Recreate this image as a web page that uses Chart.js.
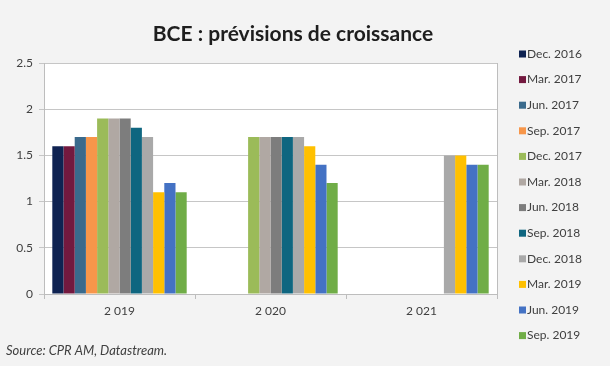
<!DOCTYPE html>
<html>
<head>
<meta charset="utf-8">
<script src="https://cdn.jsdelivr.net/npm/chart.js@4/dist/chart.umd.min.js"></script>
<style>
html,body{margin:0;padding:0;background:#f3f3f3;}
#wrap{position:relative;width:610px;height:366px;}
</style>
</head>
<body>
<div id="wrap"><canvas id="c" width="610" height="366"></canvas></div>
<script>
const title = "BCE : prévisions de croissance";
const source = "Source: CPR AM, Datastream.";
const categories = ["2 019", "2 020", "2 021"];
const seriesNames = ["Dec. 2016","Mar. 2017","Jun. 2017","Sep. 2017","Dec. 2017","Mar. 2018","Jun. 2018","Sep. 2018","Dec. 2018","Mar. 2019","Jun. 2019","Sep. 2019"];
const dec2016 = [1.6, null, null];
const mar2017 = [1.6, null, null];
const jun2017 = [1.7, null, null];
const sep2017 = [1.7, null, null];
const dec2017 = [1.9, 1.7, null];
const mar2018 = [1.9, 1.7, null];
const jun2018 = [1.9, 1.7, null];
const sep2018 = [1.8, 1.7, null];
const dec2018 = [1.7, 1.7, 1.5];
const mar2019 = [1.1, 1.6, 1.5];
const jun2019 = [1.2, 1.4, 1.4];
const sep2019 = [1.1, 1.2, 1.4];
const yTicks = [0, 0.5, 1, 1.5, 2, 2.5];
const yTickLabels = ["0", "0.5", "1", "1.5", "2", "2.5"];

const seriesValues = [dec2016, mar2017, jun2017, sep2017, dec2017, mar2018, jun2018, sep2018, dec2018, mar2019, jun2019, sep2019];
const colors = ["#0f2352","#73193f","#3a6a8c","#f7964a","#9bbb59","#b0a8a3","#7d7d7d","#0f6680","#a9a9a9","#ffc000","#4472c4","#70ad47"];

const FONT = "Lato, 'Open Sans', sans-serif";

const decor = {
  id: 'decor',
  beforeDraw(chart) {
    const {ctx, chartArea: a} = chart;
    ctx.save();
    ctx.fillStyle = '#ffffff';
    ctx.fillRect(a.left, a.top, a.right - a.left, a.bottom - a.top);
    ctx.restore();
  },
  afterDraw(chart) {
    const {ctx, chartArea: a} = chart;
    ctx.save();
    ctx.strokeStyle = '#bdbdbd';
    ctx.lineWidth = 1;
    ctx.beginPath();
    ctx.moveTo(a.right + 0.5, a.top);
    ctx.lineTo(a.right + 0.5, a.bottom);
    ctx.stroke();
    // title
    ctx.fillStyle = '#1e1e1e';
    ctx.font = "bold 21px " + FONT;
    ctx.textAlign = 'center';
    ctx.textBaseline = 'alphabetic';
    ctx.fillText(title, 293, 41);
    // legend
    ctx.font = "12px " + FONT;
    ctx.textAlign = 'left';
    ctx.textBaseline = 'middle';
    chart.data.datasets.forEach((ds, i) => {
      const y = 54 + i * 25.6;
      ctx.fillStyle = ds.backgroundColor;
      ctx.fillRect(519, y - 3.5, 7, 7);
      ctx.fillStyle = '#404040';
      ctx.fillText(ds.label, 527, y);
    });
    // source
    ctx.font = "italic 13px " + FONT;
    ctx.fillStyle = '#404040';
    ctx.fillText(source, 6, 351);
    ctx.restore();
  }
};

new Chart(document.getElementById('c'), {
  type: 'bar',
  data: {
    labels: categories,
    datasets: seriesNames.map((n, i) => ({
      label: n,
      data: seriesValues[i],
      backgroundColor: colors[i],
      borderWidth: 0,
      categoryPercentage: 0.89,
      barPercentage: 1.0
    }))
  },
  options: {
    responsive: false,
    animation: false,
    layout: {padding: {top: 63, right: 113, bottom: 0, left: 0}},
    plugins: {legend: {display: false}, tooltip: {enabled: false}, title: {display: false}},
    scales: {
      x: {
        grid: {drawOnChartArea: false, drawTicks: true, tickLength: 5, offset: true, color: '#bdbdbd'},
        border: {color: '#bdbdbd'},
        ticks: {color: '#404040', font: {family: FONT, size: 12}, padding: 5},
        afterFit(axis) { axis.height = 72; }
      },
      y: {
        min: 0, max: 2.5,
        afterBuildTicks(axis) { axis.ticks = yTicks.map(v => ({value: v})); },
        grid: {color: '#c6c6c6', tickLength: 5},
        border: {color: '#bdbdbd'},
        ticks: {
          color: '#404040', font: {family: FONT, size: 12}, padding: 6,
          callback(value) { const k = yTicks.indexOf(value); return k >= 0 ? yTickLabels[k] : ''; }
        },
        afterFit(axis) { axis.width = 44; }
      }
    }
  },
  plugins: [decor]
});
</script>
</body>
</html>
